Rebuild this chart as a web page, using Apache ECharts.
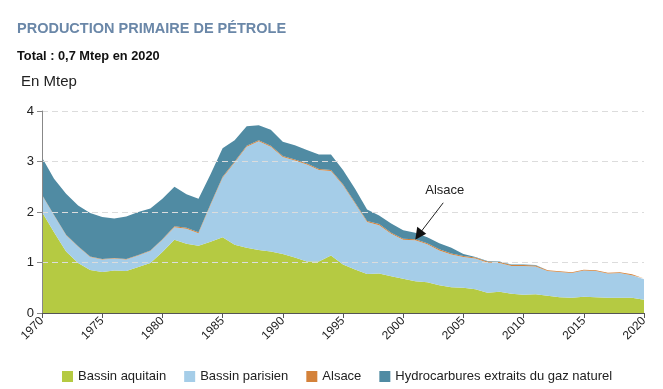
<!DOCTYPE html>
<html><head><meta charset="utf-8">
<script src="https://cdn.jsdelivr.net/npm/echarts@6/dist/echarts.min.js"></script>
<style>html,body{margin:0;padding:0;background:#fff}#c{width:663px;height:389px}</style>
</head><body><div id="c"></div>
<script>
const years = [];
for (let y = 1970; y <= 2020; y++) years.push(String(y));
const aquitain = [2.00,1.60,1.22,0.99,0.85,0.81,0.84,0.83,0.91,0.99,1.21,1.45,1.37,1.33,1.41,1.50,1.35,1.29,1.25,1.22,1.17,1.10,1.02,1.02,1.14,0.96,0.86,0.77,0.78,0.73,0.68,0.63,0.61,0.55,0.51,0.50,0.47,0.40,0.42,0.38,0.36,0.37,0.34,0.31,0.30,0.32,0.31,0.30,0.30,0.30,0.26];
const parisien = [0.33,0.33,0.32,0.32,0.26,0.25,0.24,0.23,0.23,0.24,0.24,0.25,0.30,0.25,0.73,1.18,1.63,2.00,2.15,2.07,1.92,1.92,1.92,1.81,1.67,1.57,1.31,1.03,0.96,0.84,0.77,0.81,0.75,0.69,0.65,0.61,0.61,0.60,0.57,0.55,0.57,0.55,0.49,0.50,0.49,0.52,0.52,0.48,0.49,0.45,0.41];
const alsace = [0.01,0.01,0.01,0.01,0.01,0.01,0.01,0.01,0.01,0.01,0.01,0.02,0.02,0.02,0.02,0.02,0.02,0.02,0.02,0.02,0.02,0.02,0.02,0.02,0.02,0.02,0.02,0.02,0.02,0.02,0.02,0.02,0.02,0.02,0.02,0.02,0.02,0.02,0.02,0.02,0.02,0.02,0.015,0.015,0.015,0.015,0.015,0.015,0.015,0.015,0.015];
const gazNaturel = [0.74,0.72,0.81,0.81,0.86,0.83,0.78,0.84,0.85,0.83,0.80,0.78,0.66,0.66,0.59,0.56,0.42,0.39,0.30,0.32,0.28,0.28,0.27,0.29,0.31,0.28,0.27,0.23,0.17,0.18,0.17,0.13,0.12,0.12,0.11,0.04,0.01,0.01,0.01,0.01,0.01,0.01,0,0,0,0,0,0,0,0,0];
const seriesNames = ['Bassin aquitain','Bassin parisien','Alsace','Hydrocarbures extraits du gaz naturel'];
const seriesColors = ['#b5ca42','#a5cde8','#d4823a','#508ba3'];
const seriesData = [aquitain, parisien, alsace, gazNaturel];
const yTicks = [0,1,2,3,4];
const annotation = {text:'Alsace', year:'2001', value:1.45};

const font = 'Liberation Sans, Arial, Helvetica, sans-serif';
const chart = echarts.init(document.getElementById('c'));
chart.setOption({
  animation:false,
  textStyle:{fontFamily:font},
  title:[
    {text:'PRODUCTION PRIMAIRE DE PÉTROLE', left:17, top:21, padding:0, textStyle:{fontFamily:font,fontSize:14.5,fontWeight:'bold',color:'#6a87a8'}},
    {text:'Total : 0,7 Mtep en 2020', left:17, top:50, padding:0, textStyle:{fontFamily:font,fontSize:12.8,fontWeight:'bold',color:'#111'}},
    {text:'En Mtep', left:21, top:74, padding:0, textStyle:{fontFamily:font,fontSize:15,fontWeight:'normal',color:'#222'}}
  ],
  legend:{
    top:370, left:62, padding:0, itemWidth:11, itemHeight:11, itemGap:18,
    icon:'rect',
    textStyle:{fontFamily:font,fontSize:13,color:'#222'},
    data:seriesNames
  },
  grid:{left:42,right:19,top:111,bottom:76},
  xAxis:{
    type:'category', data:years, boundaryGap:false, z:5,
    axisLine:{show:true,lineStyle:{color:'#555',width:1}},
    axisTick:{show:true,length:5,interval:4,lineStyle:{color:'#555'}},
    axisLabel:{interval:4,rotate:45,fontSize:12,color:'#222',fontFamily:font,margin:6},
    splitLine:{show:false}
  },
  yAxis:{
    type:'value', min:yTicks[0], max:yTicks[yTicks.length-1], interval:1, z:5,
    axisLine:{show:true,lineStyle:{color:'#888',width:1}},
    axisTick:{show:true,length:5,lineStyle:{color:'#888'}},
    axisLabel:{fontSize:13,color:'#222',fontFamily:font,margin:8},
    splitLine:{show:true,lineStyle:{color:'#dcdcdc',type:[6,4]}}
  },
  series: seriesNames.map((n,i)=>({
    name:n, type:'line', stack:'total', symbol:'none',
    data: seriesData[i],
    lineStyle:{width: 0, color:seriesColors[i]},
    itemStyle:{color:seriesColors[i]},
    areaStyle:{color:seriesColors[i],opacity:1}
  }))
});
const tip = chart.convertToPixel({gridIndex:0},[annotation.year, annotation.value]);
const tail = [tip[0]+28, tip[1]-37];
chart.setOption({graphic:[
  {type:'line', shape:{x1:tail[0],y1:tail[1],x2:tip[0]+5,y2:tip[1]-7}, style:{stroke:'#222',lineWidth:1}, z:100},
  {type:'polygon', shape:{points:[[tip[0],tip[1]],[tip[0]+2,tip[1]-13],[tip[0]+11,tip[1]-6]]}, style:{fill:'#111'}, z:100},
  {type:'text', x:tail[0]-18, y:tail[1]-19, style:{text:annotation.text, font:'13px '+font, fill:'#222'}, z:100}
]});
</script></body></html>
